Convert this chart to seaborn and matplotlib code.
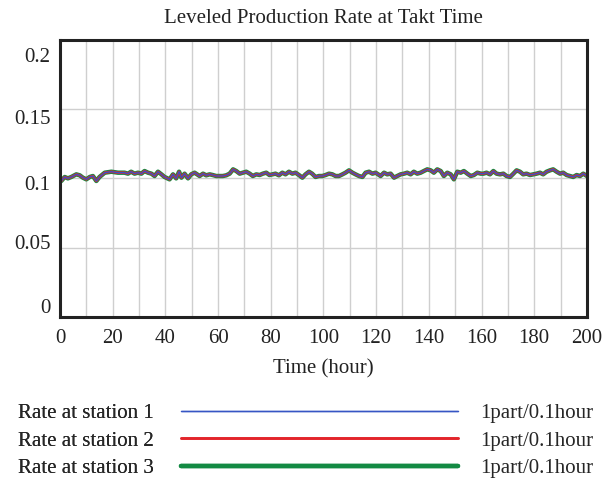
import numpy as np
import pandas as pd
import matplotlib
matplotlib.use("Agg")
import matplotlib.pyplot as plt
import matplotlib.transforms as mtransforms
from matplotlib.ticker import MultipleLocator
import seaborn as sns

# Time axis (hours) and the leveled rate (all three stations coincide)
hours = [0, 0.5, 1.8, 3.0, 4.3, 6.2, 7.5, 8.7, 10, 11.3, 12.5, 13.8, 15, 17, 19.5,
         22, 24.5, 25.8, 27, 28.3, 29.6, 30.9, 32.1, 33.4, 34.7, 35.9, 37.2, 38.5,
         39.7, 41.6, 42.9, 44.1, 45.2, 46.1, 47.3, 48.6, 49.8, 51.1, 53, 54.3, 55.5,
         56.8, 58, 59.3, 60.6, 61.8, 63.1, 64.4, 65.7, 66.9, 68.2, 69.4, 70.7, 72,
         73.2, 74.5, 75.8, 77, 78.3, 79.5, 80.6, 81.8, 83.1, 84.4, 85.6, 86.9, 88.2,
         89.4, 90.7, 92, 93.2, 94.5, 95.7, 97, 98.3, 99.6, 100.8, 102.1, 103.4,
         104.6, 105.9, 107.2, 108.4, 109.7, 111, 112.2, 113.5, 114.8, 116, 117.3,
         118.6, 119.8, 121.7, 123, 124.2, 125.5, 126.8, 128, 129.3, 130.6, 131.8,
         133.1, 134.3, 135.6, 136.9, 138.1, 139.4, 140.7, 141.9, 143.2, 144.5, 145.7,
         147, 148.3, 149.5, 150.8, 152.1, 153.3, 154.6, 155.9, 157.1, 158.4, 159.7,
         160.7, 161.9, 163.2, 164.5, 165.7, 167, 168.3, 169.5, 170.8, 172.1, 173.3,
         174.6, 175.8, 177.1, 178.4, 179.6, 180.9, 182.2, 183.4, 184.7, 186, 187.2,
         188.5, 189.8, 191, 192.3, 193.6, 194.8, 196.1, 197.4, 198.6, 200]
rate = [0.0993, 0.0981, 0.1010, 0.1000, 0.1010, 0.1029, 0.1022, 0.1005, 0.0993,
        0.1010, 0.1017, 0.0981, 0.1010, 0.1041, 0.1048, 0.1041, 0.1041, 0.1034,
        0.1048, 0.1034, 0.1041, 0.1034, 0.1053, 0.1041, 0.1034, 0.1017, 0.1048,
        0.1029, 0.1010, 0.0993, 0.1029, 0.1000, 0.1048, 0.1005, 0.1034, 0.1000,
        0.1029, 0.1041, 0.1017, 0.1034, 0.1022, 0.1029, 0.1024, 0.1017, 0.1017,
        0.1017, 0.1022, 0.1034, 0.1065, 0.1053, 0.1034, 0.1041, 0.1048, 0.1034,
        0.1017, 0.1029, 0.1024, 0.1034, 0.1041, 0.1024, 0.1029, 0.1034, 0.1022,
        0.1041, 0.1029, 0.1048, 0.1034, 0.1041, 0.1024, 0.1005, 0.1029, 0.1048,
        0.1034, 0.1010, 0.1017, 0.1017, 0.1024, 0.1034, 0.1029, 0.1017, 0.1017,
        0.1029, 0.1041, 0.1058, 0.1041, 0.1029, 0.1017, 0.1010, 0.1041, 0.1048,
        0.1034, 0.1041, 0.1017, 0.1041, 0.1029, 0.1034, 0.1005, 0.1017, 0.1029,
        0.1034, 0.1041, 0.1029, 0.1048, 0.1034, 0.1041, 0.1053, 0.1065, 0.1058,
        0.1041, 0.1065, 0.1053, 0.1017, 0.1041, 0.1029, 0.0993, 0.1048, 0.1041,
        0.1053, 0.1034, 0.1017, 0.1024, 0.1041, 0.1034, 0.1034, 0.1041, 0.1029,
        0.1053, 0.1034, 0.1029, 0.1034, 0.1017, 0.1010, 0.1034, 0.1058, 0.1048,
        0.1029, 0.1034, 0.1024, 0.1029, 0.1034, 0.1041, 0.1029, 0.1048, 0.1058,
        0.1065, 0.1048, 0.1034, 0.1041, 0.1024, 0.1017, 0.1010, 0.1024, 0.1017,
        0.1034, 0.1017]

y_ticks = [0, 0.05, 0.1, 0.15, 0.2]
y_tick_labels = ["0", "0.05", "0.1", "0.15", "0.2"]
stations = ["Rate at station 1", "Rate at station 2", "Rate at station 3"]
units = ["1part/0.1hour"] * 3
colors = ["#3655c4", "#e3252b", "#138a43"]
widths = [1.0, 1.9, 3.2]

sns.set_theme(style="white")
plt.rcParams["font.family"] = ["Liberation Serif", "DejaVu Serif"]
FS = 15

df = pd.DataFrame({"Time": hours, "Rate": rate})

fig = plt.figure(figsize=(6.12, 4.86), dpi=100)
ax = fig.add_axes([0.098, 0.348, 0.861, 0.570])

# draw thick first so the thin lines stay visible on top
handles = {}
for name, c, w in reversed(list(zip(stations, colors, widths))):
    sns.lineplot(data=df, x="Time", y="Rate", color=c, linewidth=w, ax=ax,
                 label=name, solid_capstyle="round")
    handles[name] = ax.get_lines()[-1]
ax.get_legend().remove()

ax.set_xlim(0, 200)
ax.set_ylim(0, 0.2)
ax.xaxis.set_major_locator(MultipleLocator(20))
ax.xaxis.set_minor_locator(MultipleLocator(10))
ax.set_yticks(y_ticks)
ax.set_yticklabels(y_tick_labels)
ax.grid(True, which="both", axis="x", color="#cfcfcf", linewidth=1)
ax.grid(True, which="major", axis="y", color="#cfcfcf", linewidth=1)
ax.tick_params(axis="both", which="both", length=0, labelsize=FS, colors="#222222")
ax.tick_params(axis="y", pad=7)
ax.tick_params(axis="x", pad=9)
for s in ax.spines.values():
    s.set_color("#222222")
    s.set_linewidth(2.2)

# the original tool insets the y labels a little toward the middle
fig.canvas.draw()
for tick, dy in zip(ax.yaxis.get_major_ticks(), [8, 4, -3, -6, -11]):
    off = mtransforms.ScaledTranslation(0, dy / 72, fig.dpi_scale_trans)
    tick.label1.set_transform(tick.label1.get_transform() + off)

ax.set_title("Leveled Production Rate at Takt Time", fontsize=FS, pad=12, color="#222222")
ax.set_xlabel("Time (hour)", fontsize=FS, labelpad=8, color="#222222")
ax.set_ylabel("")

leg1 = fig.legend([handles[n] for n in stations], stations, loc="center left",
                  bbox_to_anchor=(0.03, 0.093), frameon=False, markerfirst=False,
                  handlelength=13.3, handletextpad=1.3, labelspacing=0.37,
                  borderpad=0, borderaxespad=0, fontsize=FS)
fig.add_artist(leg1)
dummy = [plt.Line2D([], [], linewidth=0) for _ in units]
leg2 = fig.legend(dummy, units, loc="center right", bbox_to_anchor=(0.97, 0.093),
                  frameon=False, handlelength=0, handletextpad=0, labelspacing=0.37,
                  borderpad=0, borderaxespad=0, fontsize=FS)

fig.savefig("out.png", dpi=100)
